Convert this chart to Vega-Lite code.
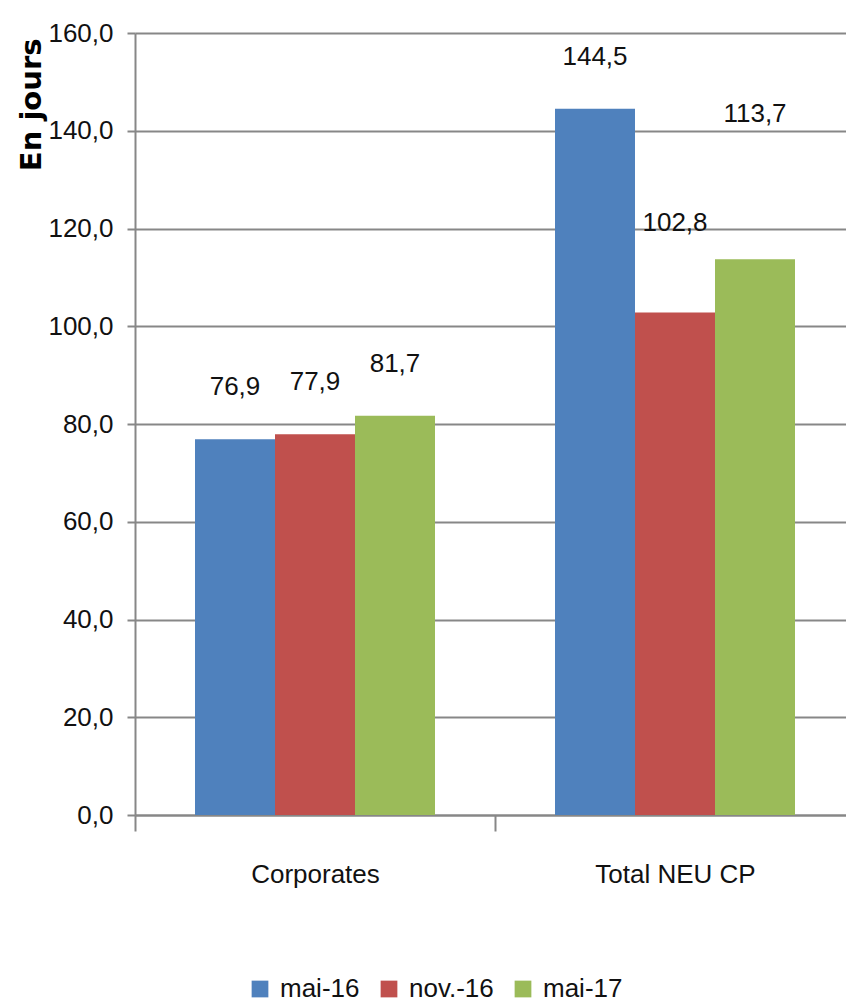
{
  "$schema": "https://vega.github.io/schema/vega-lite/v6.json",
  "width": 720,
  "height": 782,
  "autosize": {"type": "none"},
  "padding": {"left": 135, "top": 33, "right": 0, "bottom": 189},
  "background": "white",
  "config": {
    "locale": {"number": {"decimal": ",", "thousands": " ", "grouping": [3], "currency": ["", " €"]}},
    "view": {"stroke": null},
    "font": "Liberation Sans"
  },
  "data": {
    "values": [
      {"categorie": "Corporates", "periode": "mai-16", "jours": 76.9},
      {"categorie": "Corporates", "periode": "nov.-16", "jours": 77.9},
      {"categorie": "Corporates", "periode": "mai-17", "jours": 81.7},
      {"categorie": "Total NEU CP", "periode": "mai-16", "jours": 144.5},
      {"categorie": "Total NEU CP", "periode": "nov.-16", "jours": 102.8},
      {"categorie": "Total NEU CP", "periode": "mai-17", "jours": 113.7}
    ]
  },
  "encoding": {
    "x": {
      "field": "categorie",
      "type": "nominal",
      "sort": null,
      "scale": {"paddingInner": 0, "paddingOuter": 0},
      "axis": {
        "title": null,
        "labelAngle": 0,
        "labelFontSize": 26,
        "labelColor": "#111",
        "labelPadding": 30,
        "tickBand": "extent",
        "tickSize": 16,
        "tickColor": "#878787",
        "tickWidth": 2,
        "domainColor": "#878787",
        "domainWidth": 2
      }
    },
    "xOffset": {
      "field": "periode",
      "type": "nominal",
      "sort": ["mai-16", "nov.-16", "mai-17"],
      "scale": {"paddingInner": 0, "paddingOuter": 0.75}
    },
    "y": {
      "field": "jours",
      "type": "quantitative",
      "scale": {"domain": [0, 160]},
      "axis": {
        "values": [0, 20, 40, 60, 80, 100, 120, 140, 160],
        "format": ".1f",
        "labelFontSize": 26,
        "labelColor": "#111",
        "labelPadding": 14,
        "tickSize": 8,
        "tickColor": "#878787",
        "tickWidth": 2,
        "domainColor": "#878787",
        "domainWidth": 2,
        "gridColor": "#878787",
        "gridWidth": 2,
        "title": "En jours",
        "titleFont": "DejaVu Sans",
        "titleFontWeight": "bold",
        "titleFontSize": 29,
        "titleColor": "#000",
        "titleAngle": -90,
        "titleAlign": "right",
        "titleBaseline": "middle",
        "titleX": -104,
        "titleY": 5
      }
    }
  },
  "layer": [
    {
      "mark": {"type": "bar"},
      "encoding": {
        "color": {
          "field": "periode",
          "type": "nominal",
          "sort": ["mai-16", "nov.-16", "mai-17"],
          "scale": {"domain": ["mai-16", "nov.-16", "mai-17"], "range": ["#4F81BD", "#C0504D", "#9BBB59"]},
          "legend": {
            "title": null,
            "orient": "none",
            "direction": "horizontal",
            "legendX": 112,
            "legendY": 943,
            "labelFontSize": 26,
            "labelColor": "#111",
            "symbolType": "square",
            "symbolSize": 280,
            "symbolStrokeWidth": 0,
            "columnPadding": 16,
            "labelOffset": 7
          }
        }
      }
    },
    {
      "transform": [{"filter": "!(datum.categorie === 'Total NEU CP' && datum.periode !== 'mai-16')"}],
      "mark": {"type": "text", "baseline": "middle", "fontSize": 26, "color": "#111", "dy": -52},
      "encoding": {"text": {"field": "jours", "type": "quantitative", "format": ".1f"}}
    },
    {
      "transform": [{"filter": "datum.categorie === 'Total NEU CP' && datum.periode === 'nov.-16'"}],
      "mark": {"type": "text", "baseline": "middle", "fontSize": 26, "color": "#111", "dy": -90},
      "encoding": {"text": {"field": "jours", "type": "quantitative", "format": ".1f"}}
    },
    {
      "transform": [{"filter": "datum.categorie === 'Total NEU CP' && datum.periode === 'mai-17'"}],
      "mark": {"type": "text", "baseline": "middle", "fontSize": 26, "color": "#111", "dy": -145},
      "encoding": {"text": {"field": "jours", "type": "quantitative", "format": ".1f"}}
    }
  ]
}
